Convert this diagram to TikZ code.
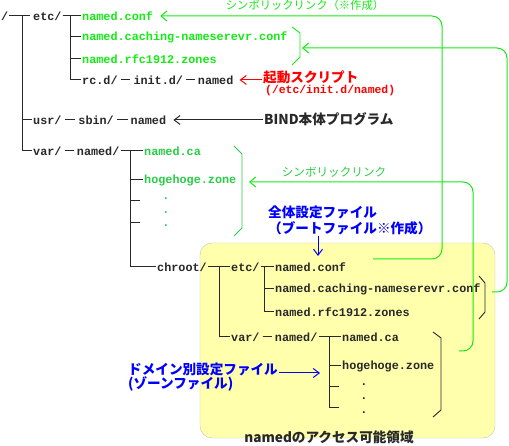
\documentclass[tikz,border=0pt]{standalone}
\usepackage{fontspec}
\setmonofont{Liberation Mono}
\newfontfamily\cjk{Noto Sans CJK JP}
\usepackage{xcolor}
\usetikzlibrary{positioning,arrows.meta}

\definecolor{linkgreen}{RGB}{20,235,20}
\definecolor{zonegreen}{RGB}{40,205,70}
\definecolor{areayellow}{RGB}{255,255,172}
\definecolor{areagray}{RGB}{192,192,192}
\definecolor{treeblack}{RGB}{40,40,40}

\begin{document}
\begin{tikzpicture}[x=1pt,y=-1pt,
    file/.style={anchor=west,inner sep=1pt,treeblack,font=\fontsize{11.8}{12}\selectfont\ttfamily\bfseries},
    note/.style={anchor=west,inner sep=1pt,font=\fontsize{13.6}{15}\selectfont\cjk\bfseries},
    tree/.style={line width=1pt,treeblack},
    joiner/.style={tree,shorten <=2pt,shorten >=2pt},
    bracket/.style={line width=0.9pt},
    link/.style={line width=1pt,linkgreen,rounded corners=10pt,-{Straight Barb[length=6pt,width=10pt]}},
    pointer/.style={line width=1pt,-{Straight Barb[length=6pt,width=9pt]}}]
    \useasboundingbox (0,0) rectangle (509,446);

    % chroot area
    \draw[areagray,fill=areayellow,rounded corners=12pt] (200,243) rectangle (495,438);
    \node[note,anchor=center,treeblack] (arealbl) at (329,437) {namedのアクセス可能領域};

    % top of the tree
    \node[file] (root) at (0,16) {/};
    \node[file] (etc) at (32,16) {etc/};
    \node[file,linkgreen] (etcconf) at (81,16) {named.conf};
    \node[file,linkgreen] (etccache) at (81,37) {named.caching-nameserevr.conf};
    \node[file,linkgreen] (etcrfc) at (81,59) {named.rfc1912.zones};
    \node[file] (rcd) at (81,80) {rc.d/};
    \node[file,right=13.5pt of rcd] (initd) {init.d/};
    \node[file,right=12.5pt of initd] (rcnamed) {named};
    \node[file] (usr) at (32,120) {usr/};
    \node[file,right=14.5pt of usr] (sbin) {sbin/};
    \node[file,right=14.5pt of sbin] (usrnamed) {named};
    \node[file] (var) at (32,151) {var/};
    \node[file,right=13pt of var] (varnamed) {named/};
    \node[file,zonegreen] (varca) at (143,151) {named.ca};
    \node[file,zonegreen] (varhoge) at (143,180) {hogehoge.zone};
    \foreach \y/\n in {202/1,216/2,229/3}
        \node[file,zonegreen,anchor=center] (vardot\n) at (166,\y-3) {.};
    \node[file] (chroot) at (156,267) {chroot/};

    \draw[tree] (root.east) -- (30,16);
    \draw[tree] (22,16) |- (var.west);
    \draw[tree] (22,120) -- (usr.west);
    \draw[tree] (etc.east) -- (etcconf.west);
    \draw[tree] (70,16) |- (rcd.west);
    \draw[tree] (70,37) -- (etccache.west);
    \draw[tree] (70,59) -- (etcrfc.west);
    \draw[joiner] (rcd) -- (initd);
    \draw[joiner] (initd) -- (rcnamed);
    \draw[joiner] (usr) -- (sbin);
    \draw[joiner] (sbin) -- (usrnamed);
    \draw[joiner] (var) -- (varnamed);
    \draw[tree] (varnamed.east) -- (varca.west);
    \draw[tree] (130,151) |- (chroot.west);
    \draw[tree] (130,180) -- (varhoge.west);
    \foreach \y in {201,223}
        \draw[tree] (130,\y) -- (140,\y);

    % inside chroot
    \node[file] (chetc) at (230,267) {etc/};
    \node[file] (chconf) at (274,267) {named.conf};
    \node[file] (chcache) at (274,289) {named.caching-nameserevr.conf};
    \node[file] (chrfc) at (274,312) {named.rfc1912.zones};
    \node[file] (chvar) at (230,337) {var/};
    \node[file,right=13pt of chvar] (chnamed) {named/};
    \node[file] (chca) at (341,337) {named.ca};
    \node[file] (chhoge) at (341,366) {hogehoge.zone};
    \foreach \y/\n in {388/1,402/2,416/3}
        \node[file,anchor=center] (chdot\n) at (364,\y-3) {.};

    \draw[tree] (chroot.east) -- (chetc.west);
    \draw[tree] (219,267) |- (chvar.west);
    \draw[tree] (chetc.east) -- (chconf.west);
    \draw[tree] (264,267) |- (chrfc.west);
    \draw[tree] (264,289) -- (chcache.west);
    \draw[joiner] (chvar) -- (chnamed);
    \draw[tree] (chnamed.east) -- (chca.west);
    \draw[tree] (329,337) |- (329,408) -- (339,408);
    \draw[tree] (329,366) -- (chhoge.west);
    \draw[tree] (329,387) -- (339,387);

    % brackets
    \draw[bracket,linkgreen] (292,27) -- (300,33) -- (300,57) -- (292,65);
    \draw[bracket,zonegreen] (234,146) -- (242,154) -- (242,228) -- (234,236);
    \draw[bracket,treeblack] (479,276) -- (485,283) -- (485,312) -- (479,319);
    \draw[bracket,treeblack] (433,332) -- (441,338) -- (441,410) -- (433,417);

    % symbolic links
    \coordinate (confstart) at (373,259);
    \coordinate (cachestart) at (492,292);
    \coordinate (zonestart) at (459,351);
    \coordinate (cachetip) at (302,48);
    \coordinate (zonetip) at (249,182);
    \node[anchor=center,inner sep=0pt,linkgreen,font=\fontsize{11.3}{12}\selectfont\cjk] (toplbl) at (305,5) {シンボリックリンク（※作成）};
    \node[anchor=center,inner sep=0pt,zonegreen,font=\fontsize{11.6}{12}\selectfont\cjk] (zonelbl) at (334,172) {シンボリックリンク};
    \draw[link] (confstart) -- (442,259) -- (442,16) -- ([xshift=6pt]etcconf.east);
    \draw[link] (cachestart) -- (507,292) -- (507,48) -- (cachetip);
    \draw[link] (zonestart) -- (473,351) -- (473,182) -- (zonetip);

    % notes
    \node[note,red] (bootlbl) at (262,77) {起動スクリプト};
    \node[file,red,font=\fontsize{11.4}{12}\selectfont\ttfamily\bfseries] (bootpath) at (264,91) {(/etc/init.d/named)};
    \draw[pointer,red] (bootlbl.west |- rcnamed) -- ([xshift=5pt]rcnamed.east);
    \node[note,treeblack] (bindlbl) at (263,119) {BIND本体プログラム};
    \draw[pointer,treeblack] (bindlbl.west |- usrnamed) -- ([xshift=6pt]usrnamed.east);
    \node[note,blue] (globallbl) at (267,212) {全体設定ファイル};
    \node[note,blue] (globallbl2) at (267,228) {（ブートファイル※作成）};
    \coordinate (globaltip) at (318,256);
    \draw[pointer,blue] (globallbl2.south -| globaltip) -- (globaltip);
    \node[note,blue] (zonenote) at (127,369) {ドメイン別設定ファイル};
    \node[note,blue] (zonenote2) at (127,384) {(ゾーンファイル)};
    \coordinate (zonenotetip) at (320,373);
    \draw[pointer,blue] (zonenote.east |- zonenotetip) -- (zonenotetip);
\end{tikzpicture}
\end{document}
